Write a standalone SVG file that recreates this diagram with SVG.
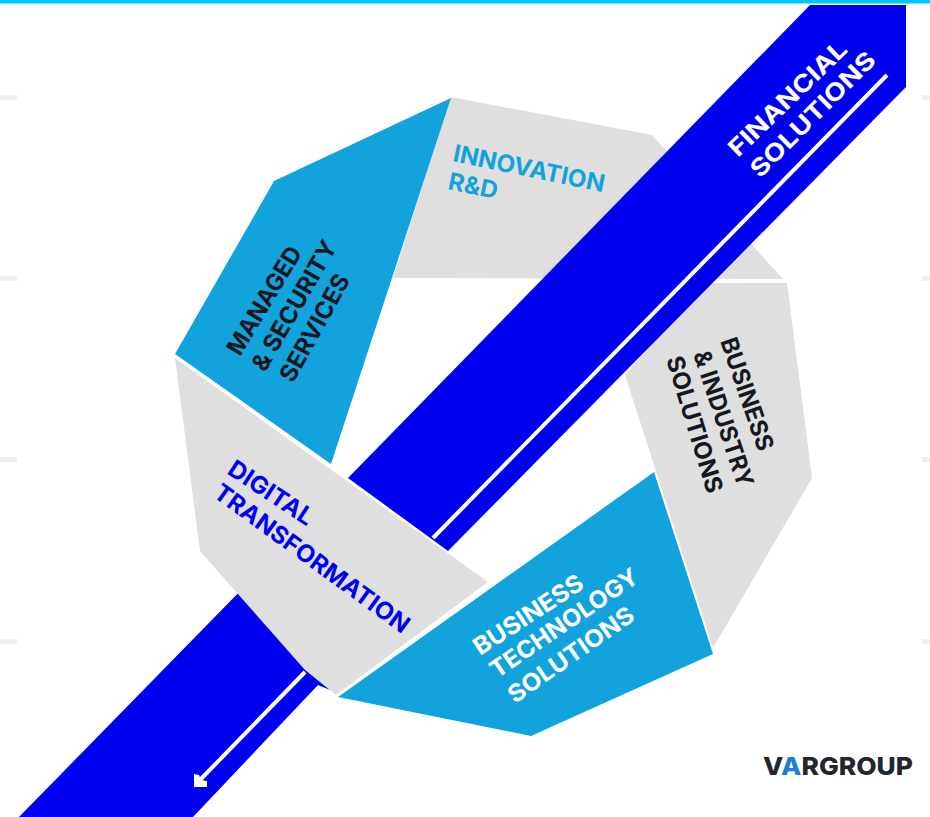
<svg xmlns="http://www.w3.org/2000/svg" width="930" height="817" viewBox="0 0 930 817">
<style>
.t{font-family:"Inter","Liberation Sans",sans-serif;font-weight:700;font-size:24px}
.gray{fill:#dfdfdf}
.sky{fill:#12a3dc}
.band{fill:#0000f0}
.rule{fill:none;stroke:#fff;stroke-width:4}
.tick{fill:#f0f0f2}
.wh{fill:#fff}
.dk{fill:#17171f}
.bl{fill:#0000f0}
.sk{fill:#12a3dc}
</style>
<rect width="930" height="817" fill="#fff"/>
<rect width="930" height="3.500" fill="#00c6ff"/>
<g id="ticks">
<rect class="tick" x="0" y="95" width="17" height="5"/><rect class="tick" x="922" y="95" width="8" height="5"/>
<rect class="tick" x="0" y="276" width="17" height="5"/><rect class="tick" x="922" y="276" width="8" height="5"/>
<rect class="tick" x="0" y="457" width="17" height="5"/><rect class="tick" x="922" y="457" width="8" height="5"/>
<rect class="tick" x="0" y="639" width="17" height="5"/><rect class="tick" x="922" y="639" width="8" height="5"/>
</g>
<g id="innovation">
<polygon class="gray" points="451,97 652,135 783,279 393,278"/>
<text class="t sk" transform="translate(452 161) rotate(11.700)" textLength="154" lengthAdjust="spacingAndGlyphs">INNOVATION</text>
<text class="t sk" transform="translate(447 189) rotate(11.700)" textLength="50" lengthAdjust="spacingAndGlyphs">R&amp;D</text>
</g>
<g id="managed">
<polygon class="sky" points="451,98 274,181 175,354 331,464"/>
<text class="t dk" transform="translate(240 357) rotate(-59)" textLength="122" lengthAdjust="spacingAndGlyphs">MANAGED</text>
<text class="t dk" transform="translate(265 373) rotate(-60)" textLength="146" lengthAdjust="spacingAndGlyphs">&amp; SECURITY</text>
<text class="t dk" transform="translate(293 384) rotate(-61)" textLength="119" lengthAdjust="spacingAndGlyphs">SERVICES</text>
</g>
<g id="industry">
<polygon class="gray" points="787,283 812,478 713,648 625,375 705,283"/>
<text class="t dk" transform="translate(720 341) rotate(71)" textLength="118" lengthAdjust="spacingAndGlyphs">BUSINESS</text>
<text class="t dk" transform="translate(693 354) rotate(71.500)" textLength="142" lengthAdjust="spacingAndGlyphs">&amp; INDUSTRY</text>
<text class="t dk" transform="translate(666 359) rotate(73)" textLength="142" lengthAdjust="spacingAndGlyphs">SOLUTIONS</text>
</g>
<g id="financial">
<polygon class="band" points="810,5 906,5 906,87 448,551 348,478"/>
<polygon class="band" points="250,581 330,690 318,685 193,817 19,817"/>
<path class="rule" d="M887 75L433 538"/>
<path class="rule" d="M305 672L199 781"/>
<polygon class="wh" points="194,774 199,775 201,780 207,781 207,787 194,787"/>
<text class="t wh" transform="translate(738 158) rotate(-44)" textLength="154" lengthAdjust="spacingAndGlyphs">FINANCIAL</text>
<text class="t wh" transform="translate(760 179) rotate(-45)" textLength="166" lengthAdjust="spacingAndGlyphs">SOLUTIONS</text>
</g>
<g id="technology">
<polygon class="sky" points="654,472 713,654 531,736 338,697"/>
<text class="t wh" transform="translate(480 656) rotate(-33)" textLength="126" lengthAdjust="spacingAndGlyphs">BUSINESS</text>
<text class="t wh" transform="translate(497 679) rotate(-34.400)" textLength="174" lengthAdjust="spacingAndGlyphs">TECHNOLOGY</text>
<text class="t wh" transform="translate(515 704) rotate(-35)" textLength="148" lengthAdjust="spacingAndGlyphs">SOLUTIONS</text>
</g>
<g id="digital">
<polygon class="gray" points="175,358 488,582 336,695 305,670 200,551"/>
<text class="t bl" transform="translate(226 473) rotate(33.500)" textLength="97" lengthAdjust="spacingAndGlyphs">DIGITAL</text>
<text class="t bl" transform="translate(212 496) rotate(36)" textLength="235" lengthAdjust="spacingAndGlyphs">TRANSFORMATION</text>
</g>
<g id="logo">
<text x="763" y="775" font-family="Inter,'Liberation Sans',sans-serif" font-weight="800" font-size="25" textLength="150" lengthAdjust="spacingAndGlyphs" fill="#23262d">V<tspan fill="#1c7fd0">A</tspan>RGROUP</text>
</g>
</svg>
